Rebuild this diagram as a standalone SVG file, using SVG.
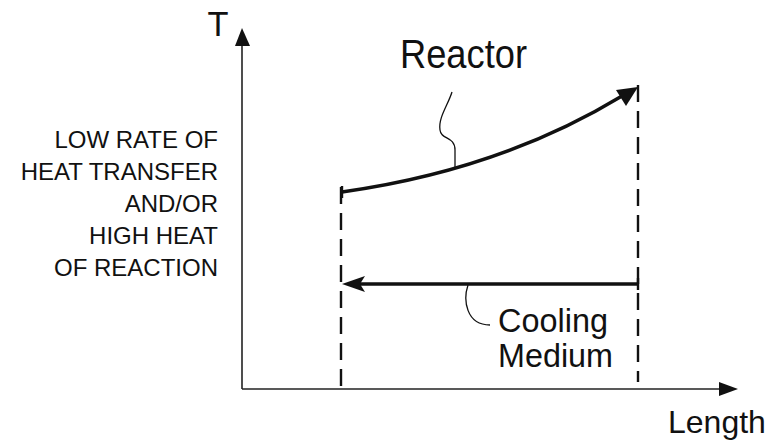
<svg xmlns="http://www.w3.org/2000/svg" width="770" height="445" viewBox="0 0 770 445">
<style>
text{font-family:"Liberation Sans",Arial,sans-serif;fill:#111}
.ax{stroke:#222;stroke-width:1.6;fill:none}
.dash{stroke:#111;stroke-width:2.4;stroke-dasharray:17,9;fill:none}
.flow{stroke:#111;stroke-width:3.4;fill:none}
.lead{stroke:#111;stroke-width:1.3;fill:none}
.lbl{font-size:24px;text-anchor:end}
</style>
<rect width="770" height="445" fill="#fff"/>
<g id="axes">
<line class="ax" x1="242" y1="389" x2="242" y2="42"/>
<polygon points="242,28 235,46 250,46" fill="#111"/>
<line class="ax" x1="242" y1="389" x2="724" y2="389"/>
<polygon points="738,389 719,382 719,396" fill="#111"/>
<text x="218" y="36" font-size="35" text-anchor="middle" textLength="21" lengthAdjust="spacingAndGlyphs">T</text>
<text x="668" y="433" font-size="32">Length</text>
</g>
<g id="bounds">
<line class="dash" x1="341" y1="187" x2="341" y2="389"/>
<line class="dash" x1="638" y1="85" x2="638" y2="382"/>
</g>
<g id="condition-label">
<text class="lbl" x="218" y="148">LOW RATE OF</text>
<text class="lbl" x="218" y="180">HEAT TRANSFER</text>
<text class="lbl" x="218" y="212">AND/OR</text>
<text class="lbl" x="218" y="244">HIGH HEAT</text>
<text class="lbl" x="218" y="276">OF REACTION</text>
</g>
<g id="connectors">
<path class="flow" d="M342,192 Q500,170 622,96"/>
<polygon points="638,87 616,90 626,106" fill="#111"/>
<line x1="342" y1="186" x2="342" y2="198" stroke="#111" stroke-width="2.4"/>
<line class="flow" x1="638" y1="284" x2="360" y2="284"/>
<polygon points="342,284 365,276 360,284 365,292" fill="#111"/>
<line x1="638" y1="278" x2="638" y2="290" stroke="#111" stroke-width="2.4"/>
</g>
<g id="reactor">
<text x="400" y="68" font-size="41" textLength="127" lengthAdjust="spacingAndGlyphs">Reactor</text>
<path class="lead" d="M452,92 C448,105 438,118 440,130 C441,140 455,136 455,150 L455,168"/>
</g>
<g id="cooling">
<text x="498" y="332" font-size="33" textLength="110" lengthAdjust="spacingAndGlyphs">Cooling</text>
<text x="498" y="367" font-size="33" textLength="115" lengthAdjust="spacingAndGlyphs">Medium</text>
<path class="lead" d="M468,285 C463,300 466,325 490,325"/>
</g>
</svg>
